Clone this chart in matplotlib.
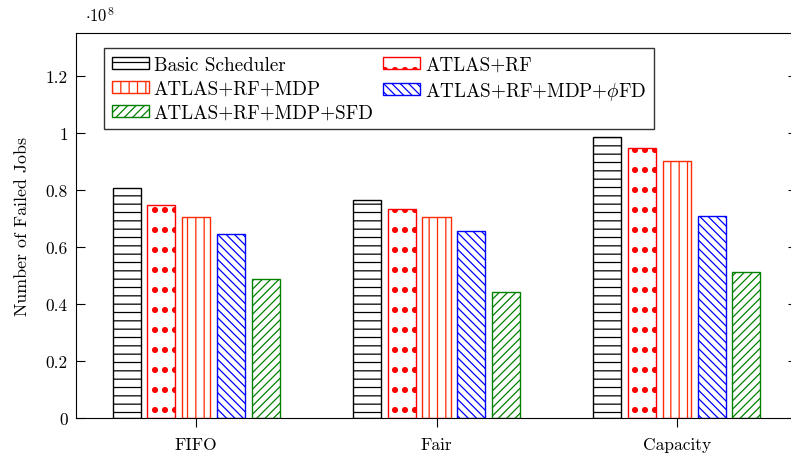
import numpy as np
import matplotlib
matplotlib.use('Agg')
from matplotlib import pyplot as plt
from matplotlib.ticker import FuncFormatter
from matplotlib.path import Path
import matplotlib.hatch as mhatch

plt.rcParams['font.family'] = 'serif'
plt.rcParams['font.serif'] = ['cmr10', 'DejaVu Serif']
plt.rcParams['mathtext.fontset'] = 'cm'
plt.rcParams['axes.formatter.use_mathtext'] = True
plt.rcParams['hatch.linewidth'] = 0.9


# grid of big filled dots (pgfplots "dots" look), hooked onto the '*' hatch
class DotGrid(mhatch.HatchPatternBase):
    def __init__(self, hatch, density):
        self.ncol, self.nrow = 10, 5
        circ = Path.unit_circle()
        self.circle = circ.vertices * 0.024
        self.ccodes = circ.codes
        if '*' in hatch:
            self.num_vertices = self.ncol * self.nrow * len(self.circle)
        else:
            self.num_vertices = 0

    def set_vertices_and_codes(self, vertices, codes):
        vs, cs = [], []
        for r in range(self.nrow):
            for c in range(self.ncol):
                vs.append(self.circle + [(c + 0.5) / self.ncol, (r + 0.5) / self.nrow])
                cs.append(self.ccodes)
        np.concatenate(vs, out=vertices)
        np.concatenate(cs, out=codes)


mhatch._hatch_types = [h for h in mhatch._hatch_types if h is not mhatch.Stars] + [DotGrid]

# data (in units of 10^8 failed jobs)
schedulers = ['FIFO', 'Fair', 'Capacity']
basic = [0.807, 0.764, 0.987]
atlas_rf = [0.747, 0.733, 0.946]
atlas_mdp = [0.706, 0.704, 0.902]
atlas_phifd = [0.646, 0.656, 0.710]
atlas_sfd = [0.487, 0.441, 0.513]

series = [
    ('Basic Scheduler', basic, 'black', '--'),
    ('ATLAS+RF', atlas_rf, 'red', '*'),
    ('ATLAS+RF+MDP', atlas_mdp, '#ff2a00', '||'),
    ('ATLAS+RF+MDP+$\\phi$FD', atlas_phifd, 'blue', '\\\\\\\\'),
    ('ATLAS+RF+MDP+SFD', atlas_sfd, 'green', '////'),
]

fig = plt.figure(figsize=(7.91, 4.6), dpi=100)
ax = fig.add_axes([0.0961, 0.0891, 0.9115, 0.837])

x = np.arange(len(schedulers))
step = 0.1446
width = 0.117
bars = []
for i, (name, vals, col, hatch) in enumerate(series):
    b = ax.bar(x + (i - 2) * step, vals, width, facecolor='white', edgecolor=col,
               hatch=hatch, linewidth=1.0, label=name)
    bars.append(b)

ax.set_xlim(-0.5, 2.5)
ax.set_ylim(0, 1.35)
ax.set_xticks(x)
ax.set_xticklabels(schedulers)
ax.set_yticks([0, 0.2, 0.4, 0.6, 0.8, 1.0, 1.2])
ax.yaxis.set_major_formatter(FuncFormatter(lambda v, p: '%g' % v))
ax.tick_params(axis='y', direction='in', right=True, length=6.5, labelsize=12.5, pad=6)
ax.tick_params(axis='x', direction='out', length=6.5, labelsize=12.5, pad=7)
ax.set_ylabel('Number of Failed Jobs', fontsize=12.9, labelpad=11)
ax.text(0.012, 1.03, '$\\cdot 10^8$', transform=ax.transAxes, fontsize=12)

# row-wise legend order like the original (2 columns)
order = [0, 2, 4, 1, 3]
leg = ax.legend([bars[k] for k in order], [series[k][0] for k in order],
                ncol=2, loc='upper left', bbox_to_anchor=(0.0388, 0.961),
                fontsize=13.8, fancybox=False, framealpha=1, edgecolor='#333333',
                handlelength=1.93, handleheight=0.55, columnspacing=0.5,
                labelspacing=0.32, borderaxespad=0, handletextpad=0.26,
                borderpad=0.4)
leg.get_frame().set_linewidth(1.0)

plt.savefig('out.png', dpi=100)
